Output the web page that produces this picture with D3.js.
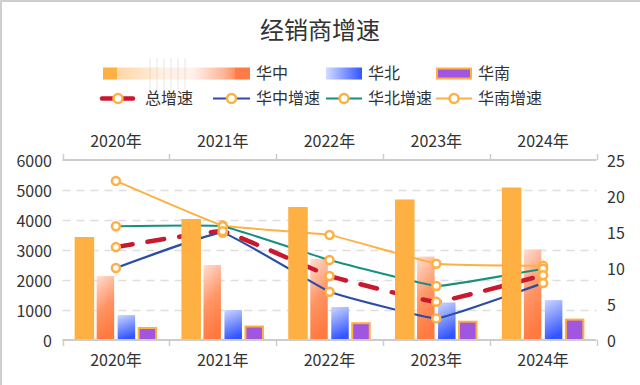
<!DOCTYPE html>
<html><head><meta charset="utf-8">
<script src="https://cdn.jsdelivr.net/npm/d3@7/dist/d3.min.js"></script>
<style>
html,body{margin:0;padding:0;background:#fff;}
svg{display:block;font-family:"Noto Sans CJK SC","Noto Sans",sans-serif;}
</style></head>
<body>
<svg id="c" width="640" height="385"></svg>
<script>
const categories = ["2020年","2021年","2022年","2023年","2024年"];
const leftTicks = [0,1000,2000,3000,4000,5000,6000];
const rightTicks = [0,5,10,15,20,25];
// bar series
const barTotal = [3400, 4000, 4400, 4650, 5050];
const barCentral = [2130, 2500, 2700, 2780, 3020];   // 华中
const barNorth = [830, 1000, 1100, 1250, 1330];      // 华北
const barSouth = [400, 450, 560, 610, 680];          // 华南
// growth lines (%)
const growthTotal = [12.9, 15.1, 8.9, 5.3, 9.0];     // 总增速
const growthCentral = [10.0, 14.9, 6.7, 3.0, 7.9];   // 华中增速
const growthNorth = [15.8, 15.8, 11.1, 7.5, 9.9];    // 华北增速
const growthSouth = [22.1, 15.9, 14.6, 10.6, 10.3];  // 华南增速

const svg = d3.select("#c");
const defs = svg.append("defs");
const gC = defs.append("linearGradient").attr("id","gC").attr("x1",0).attr("y1",0).attr("x2",0.25).attr("y2",1);
gC.append("stop").attr("offset",0).attr("stop-color","#FFDED2");
gC.append("stop").attr("offset",0.55).attr("stop-color","#FF9565");
gC.append("stop").attr("offset",1).attr("stop-color","#FF7A40");
const gN = defs.append("linearGradient").attr("id","gN").attr("x1",0).attr("y1",0).attr("x2",0.25).attr("y2",1);
gN.append("stop").attr("offset",0).attr("stop-color","#CDD7FF");
gN.append("stop").attr("offset",1).attr("stop-color","#3355FF");
const gL = defs.append("linearGradient").attr("id","gL").attr("x1",0).attr("y1",0).attr("x2",1).attr("y2",0);
gL.append("stop").attr("offset",0).attr("stop-color","#FFD6A6");
gL.append("stop").attr("offset",0.4).attr("stop-color","#FFF1E4");
gL.append("stop").attr("offset",0.65).attr("stop-color","#FFF0EA");
gL.append("stop").attr("offset",0.9).attr("stop-color","#FFB69A");
gL.append("stop").attr("offset",1).attr("stop-color","#FF8F62");
const gLN = defs.append("linearGradient").attr("id","gLN").attr("x1",0).attr("y1",0).attr("x2",1).attr("y2",0);
gLN.append("stop").attr("offset",0).attr("stop-color","#D3DCFF");
gLN.append("stop").attr("offset",1).attr("stop-color","#3355FF");

// frame border (top/left)
svg.append("rect").attr("x",0).attr("y",0).attr("width",640).attr("height",2).attr("fill","#cfcfcf");
svg.append("rect").attr("x",0).attr("y",0).attr("width",2).attr("height",385).attr("fill","#cfcfcf");

const ORANGE = "#FEB042";
const TXT = "#333";

// title
svg.append("text").attr("x",320).attr("y",39).attr("text-anchor","middle")
  .attr("font-size",24).attr("fill",TXT).text("经销商增速");

const x = d3.scaleBand().domain(categories).range([62.5,596.5]).padding(0);
const yL = d3.scaleLinear().domain([0,6000]).range([340,160]);
const yR = d3.scaleLinear().domain([0,25]).range([340,160]);

// grid lines
svg.append("g").selectAll("line").data(leftTicks.filter(t=>t>0 && t<6000)).join("line")
  .attr("x1",62.5).attr("x2",596.5).attr("y1",d=>Math.round(yL(d))+0.5).attr("y2",d=>Math.round(yL(d))+0.5)
  .attr("stroke","#dedede").attr("stroke-width",1.3).attr("stroke-dasharray","8,6");

// y axis labels
const gl = svg.append("g").attr("transform","translate(62,0)").call(d3.axisLeft(yL).tickValues(leftTicks).tickSize(0).tickPadding(10).tickFormat(d3.format("d")));
gl.select(".domain").remove();
gl.selectAll("text").attr("font-size",16).attr("fill",TXT).attr("font-family","Noto Sans CJK SC").attr("dy","0.4em");
const gr = svg.append("g").attr("transform","translate(597,0)").call(d3.axisRight(yR).tickValues(rightTicks).tickSize(0).tickPadding(10).tickFormat(d3.format("d")));
gr.select(".domain").remove();
gr.selectAll("text").attr("font-size",16).attr("fill",TXT).attr("font-family","Noto Sans CJK SC").attr("dy","0.4em");

// x axes (top and bottom)
function xAxis(y, dir){
  const g = svg.append("g");
  g.append("line").attr("x1",62.5).attr("x2",596.5).attr("y1",y).attr("y2",y).attr("stroke","#cccccc").attr("stroke-width",2);
  const bounds = categories.map(c=>x(c)).concat([x.range()[1]]);
  g.selectAll("line.t").data(bounds).join("line").attr("class","t")
    .attr("x1",d=>Math.round(d)+0.5).attr("x2",d=>Math.round(d)+0.5).attr("y1",y).attr("y2",y+dir*6)
    .attr("stroke","#cccccc").attr("stroke-width",1.5);
  g.selectAll("text").data(categories).join("text")
    .attr("x",d=>x(d)+x.bandwidth()/2).attr("y", dir<0 ? y-13 : y+26)
    .attr("text-anchor","middle").attr("font-size",16).attr("fill",TXT).text(d=>d);
}
xAxis(160,-1);

// bars
const bw = 17.5, step = 21;
const offs = [-1.5,-0.5,0.5,1.5].map(k=>k*step);
function bars(data, k, fill, stroke){
  svg.append("g").selectAll("rect").data(data).join("rect")
    .attr("x",(d,i)=>x(categories[i])+x.bandwidth()/2+offs[k]-bw/2)
    .attr("y",d=>yL(d)).attr("width",bw).attr("height",d=>340-yL(d))
    .attr("fill",fill).attr("stroke",stroke||"none").attr("stroke-width",stroke?2:0);
}
bars(barCentral,1,"url(#gC)");
bars(barNorth,2,"url(#gN)");
bars(barSouth,3,"#A156E0",ORANGE);

// lines
const lineGen = d3.line().x((d,i)=>x(categories[i])+x.bandwidth()/2).y(d=>yR(d)).curve(d3.curveCardinal.tension(0.75));
const lines = [
  {data:growthSouth,color:"#FDB144",w:2,dash:null},
  {data:growthNorth,color:"#17917F",w:2,dash:null},
  {data:growthCentral,color:"#2B4DA6",w:2.2,dash:null},
  {data:growthTotal,color:"#C8192E",w:4.5,dash:"17,15"},
];
lines.forEach(l=>{
  svg.append("path").attr("d",lineGen(l.data)).attr("fill","none").attr("stroke",l.color)
    .attr("stroke-width",l.w).attr("stroke-dasharray",l.dash).attr("stroke-linecap",l.dash?"round":"butt");
});

// orange bars drawn above lines
bars(barTotal,0,ORANGE,ORANGE);

xAxis(340,1);

// markers
lines.forEach(l=>{
  svg.append("g").selectAll("circle").data(l.data).join("circle")
    .attr("cx",(d,i)=>x(categories[i])+x.bandwidth()/2).attr("cy",d=>yR(d)).attr("r",4)
    .attr("fill","#fff").attr("stroke",ORANGE).attr("stroke-width",2.5);
});

// legend row 1
const L = svg.append("g");
L.append("rect").attr("x",103).attr("y",67.5).attr("width",14).attr("height",12).attr("fill",ORANGE);
L.append("rect").attr("x",117).attr("y",67.5).attr("width",118).attr("height",12).attr("fill","url(#gL)");
L.append("rect").attr("x",235).attr("y",67.5).attr("width",15).attr("height",12).attr("fill","#FF7A45");
L.append("rect").attr("x",326).attr("y",67.5).attr("width",36).attr("height",12).attr("fill","url(#gLN)");
L.append("rect").attr("x",437).attr("y",68.5).attr("width",34).attr("height",10).attr("fill","#A156E0").attr("stroke",ORANGE).attr("stroke-width",2);
const leg1 = [["华中",256],["华北",368],["华南",478]];
L.selectAll("text.r1").data(leg1).join("text").attr("class","r1").attr("x",d=>d[1]).attr("y",79)
  .attr("font-size",16).attr("fill",TXT).text(d=>d[0]);
// faint vertical streaks seen in the reference legend
L.selectAll("line.art").data([150,157,164,171,178,185]).join("line").attr("class","art")
  .attr("x1",d=>d).attr("x2",d=>d).attr("y1",58).attr("y2",106)
  .attr("stroke","#c8c8c8").attr("stroke-opacity",0.3).attr("stroke-width",1.5);
// legend row 2
const leg2 = [
  {name:"总增速",x1:102,x2:133,cx:118,tx:145,color:"#C8192E",w:4.5},
  {name:"华中增速",x1:213,x2:250,cx:231.5,tx:256,color:"#2B4DA6",w:2.2},
  {name:"华北增速",x1:326,x2:362,cx:344,tx:368,color:"#17917F",w:2},
  {name:"华南增速",x1:436,x2:472,cx:454,tx:478,color:"#FDB144",w:2},
];
leg2.forEach(d=>{
  L.append("line").attr("x1",d.x1).attr("x2",d.x2).attr("y1",98.5).attr("y2",98.5)
    .attr("stroke",d.color).attr("stroke-width",d.w).attr("stroke-linecap",d.w>3?"round":"butt");
  L.append("circle").attr("cx",d.cx).attr("cy",98.5).attr("r",4.5).attr("fill","#fff").attr("stroke",ORANGE).attr("stroke-width",2.5);
  L.append("text").attr("x",d.tx).attr("y",104).attr("font-size",16).attr("fill",TXT).text(d.name);
});
</script>
</body></html>
